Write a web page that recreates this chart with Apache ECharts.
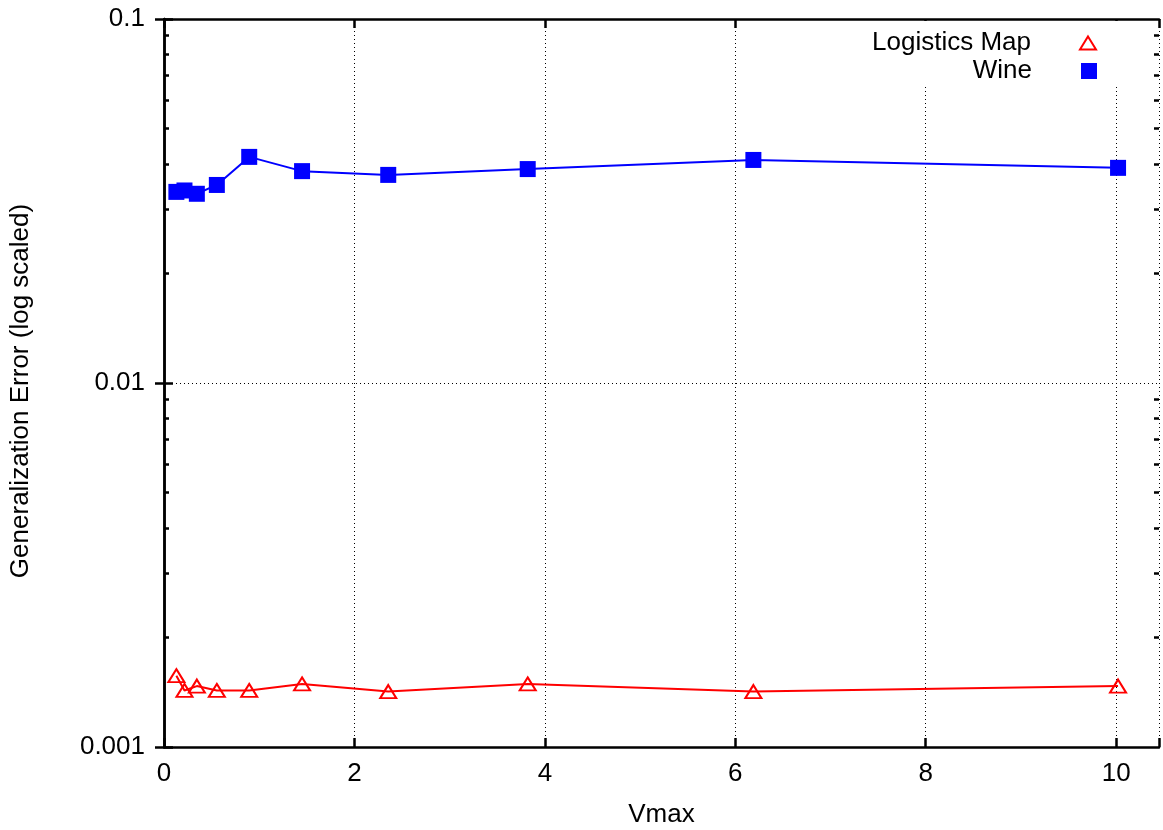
<!DOCTYPE html>
<html lang="en">
<head>
    <meta charset="UTF-8">
    <title>Generalization Error vs Vmax</title>
    <script src="https://cdn.jsdelivr.net/npm/echarts@6/dist/echarts.min.js"></script>
    <style>
        html, body { margin: 0; padding: 0; background: #fff; }
        #chart { width: 1163px; height: 830px; }
    </style>
</head>
<body>
<div id="chart"></div>
<script type="text/javascript">
    // values
    var vmax = [0.13, 0.215, 0.345, 0.555, 0.895, 1.45, 2.355, 3.82, 6.19, 10.02];
    var logisticsErr = [0.00157, 0.00143, 0.00147, 0.00143, 0.00143, 0.00149, 0.00142, 0.00149, 0.00142, 0.00147];
    var wineErr = [0.0335, 0.0338, 0.0331, 0.0350, 0.0418, 0.0382, 0.0373, 0.0387, 0.0410, 0.0390];
    // minor ticks of the log axis (2..9 per decade)
    var minorTicks = [0.002, 0.003, 0.004, 0.005, 0.006, 0.007, 0.008, 0.009,
                      0.02, 0.03, 0.04, 0.05, 0.06, 0.07, 0.08, 0.09];

    var FONT = "'Liberation Sans', Arial, Helvetica, sans-serif";
    var FS = 26;
    var chart = echarts.init(document.getElementById('chart'));

    function pairs(xs, ys) {
        var out = [];
        for (var i = 0; i < xs.length; i++) out.push([xs[i], ys[i]]);
        return out;
    }

    var border = { show: true, lineStyle: { color: '#000', width: 2.5 } };
    var dotted = { show: true, lineStyle: { color: '#000', width: 1, type: [1, 3] } };
    var noLabel = { show: false };

    var option = {
        animation: false,
        backgroundColor: '#fff',
        textStyle: { fontFamily: FONT, color: '#000' },
        grid: { left: 164, right: 4, top: 19, bottom: 83, outerBoundsMode: 'none' },
        legend: [
            {
                data: [{ name: 'Logistics Map', icon: 'triangle',
                         itemStyle: { color: 'rgba(255,255,255,0)', borderColor: '#ff0000', borderWidth: 2 } }],
                right: 28, top: 21, align: 'right', orient: 'vertical',
                padding: [8, 38, 0, 20],
                itemWidth: 16, itemHeight: 13,
                backgroundColor: '#fff',
                textStyle: { fontSize: FS, fontFamily: FONT, color: '#000', padding: [0, 44, 0, 0], lineHeight: 28 }
            },
            {
                data: [{ name: 'Wine', icon: 'rect', itemStyle: { color: '#0000ff' } }],
                right: 28, top: 57, align: 'right', orient: 'vertical',
                padding: [0, 38, 1, 120],
                itemWidth: 16, itemHeight: 16,
                backgroundColor: '#fff',
                textStyle: { fontSize: FS, fontFamily: FONT, color: '#000', padding: [0, 44, 0, 0], lineHeight: 28 }
            }
        ],
        xAxis: [
            {
                type: 'value', position: 'bottom', min: 0, max: 10.45, interval: 2,
                name: 'Vmax', nameLocation: 'middle', nameGap: 55,
                nameTextStyle: { fontSize: FS, fontFamily: FONT, color: '#000' },
                axisLine: border,
                axisTick: { inside: true, length: 9, lineStyle: { color: '#000', width: 2.5 } },
                axisLabel: {
                    fontSize: FS, fontFamily: FONT, color: '#000', margin: 14,
                    formatter: function (v) { return v % 2 === 0 ? String(v) : ''; }
                },
                splitLine: dotted
            },
            {
                type: 'value', position: 'top', min: 0, max: 10.45, interval: 2,
                axisLine: border,
                axisTick: { inside: true, length: 9, lineStyle: { color: '#000', width: 2.5 } },
                axisLabel: noLabel,
                splitLine: { show: false }
            }
        ],
        yAxis: [
            {
                type: 'log', logBase: 10, position: 'left', min: 0.001, max: 0.1,
                name: 'Generalization Error (log scaled)', nameLocation: 'middle', nameGap: 130,
                nameTextStyle: { fontSize: FS, fontFamily: FONT, color: '#000', padding: [0, 16, 0, 0] },
                axisLine: border,
                axisTick: { inside: true, length: 9, lineStyle: { color: '#000', width: 2.5 } },
                axisLabel: { fontSize: FS, fontFamily: FONT, color: '#000', margin: 19 },
                splitLine: dotted
            },
            {
                type: 'log', logBase: 10, position: 'right', min: 0.001, max: 0.1,
                axisLine: border,
                axisTick: { inside: true, length: 9, lineStyle: { color: '#000', width: 2.5 } },
                axisLabel: noLabel,
                splitLine: { show: false }
            },
            {
                // minor ticks, left side (log10 space)
                type: 'value', position: 'left', min: -3, max: -1,
                axisLine: { show: false },
                axisTick: { inside: true, length: 5, lineStyle: { color: '#000', width: 2.5 },
                            customValues: minorTicks.map(Math.log10) },
                axisLabel: noLabel,
                splitLine: { show: false }
            },
            {
                // minor ticks, right side
                type: 'value', position: 'right', min: -3, max: -1,
                axisLine: { show: false },
                axisTick: { inside: true, length: 5, lineStyle: { color: '#000', width: 2.5 },
                            customValues: minorTicks.map(Math.log10) },
                axisLabel: noLabel,
                splitLine: { show: false }
            }
        ],
        series: [
            {
                name: 'Logistics Map',
                type: 'line',
                xAxisIndex: 0, yAxisIndex: 0,
                data: pairs(vmax, logisticsErr),
                symbol: 'triangle',
                symbolSize: [16, 13],
                itemStyle: { color: 'rgba(255,255,255,0)', borderColor: '#ff0000', borderWidth: 2 },
                lineStyle: { color: '#ff0000', width: 2 },
                emphasis: { disabled: true }
            },
            {
                name: 'Wine',
                type: 'line',
                xAxisIndex: 0, yAxisIndex: 0,
                data: pairs(vmax, wineErr),
                symbol: 'rect',
                symbolSize: 16,
                itemStyle: { color: '#0000ff' },
                lineStyle: { color: '#0000ff', width: 2 },
                emphasis: { disabled: true }
            }
        ]
    };

    chart.setOption(option);
</script>
</body>
</html>
